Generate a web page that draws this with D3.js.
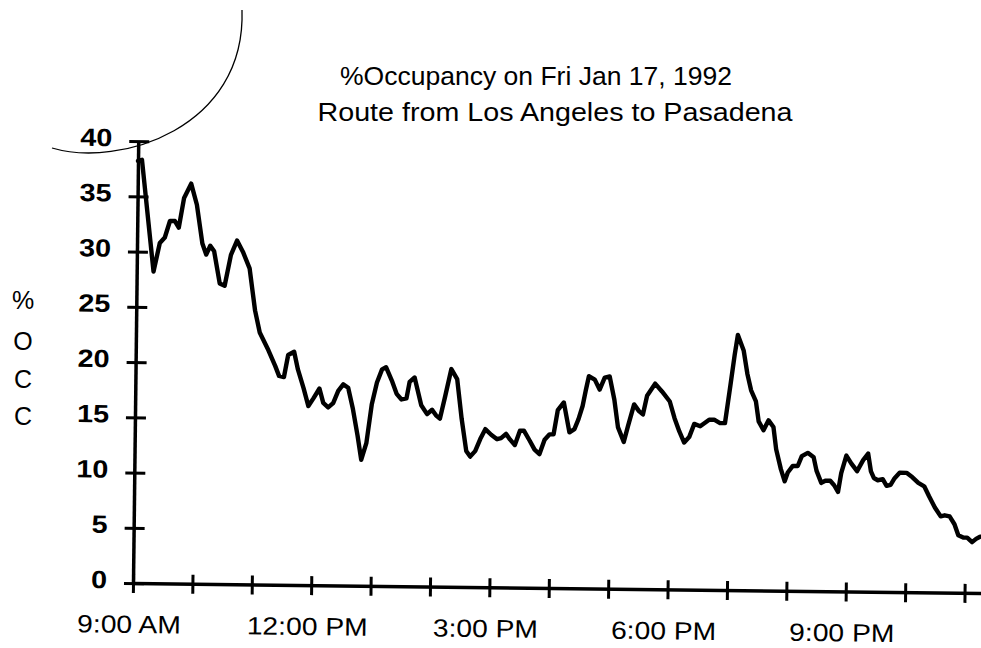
<!DOCTYPE html>
<html>
<head>
<meta charset="utf-8">
<title>%Occupancy</title>
<script src="https://cdn.jsdelivr.net/npm/d3@7"></script>
<style>
  body { margin: 0; background: #fff; }
  text { font-family: "Liberation Sans", Arial, Helvetica, sans-serif; fill: #000; }
  .tick line, .domain { stroke: #000; }
</style>
</head>
<body>
<script>

// minutes after 9:00 AM
let minutes = [0, 4, 17, 23, 28, 33, 38, 42, 47, 54, 60, 66, 70, 74, 78, 84, 89, 95, 101, 107, 114, 120, 125, 134, 141,
  145, 150, 154, 160, 164, 170, 175, 180, 186, 190, 195, 200, 205, 210, 215, 220, 225, 229, 234, 239, 244, 249, 253, 259, 264, 269, 274, 277, 282,
  289, 295, 300, 304, 308, 313, 319, 325, 330, 335, 339, 344, 349, 354, 360, 366, 370, 375, 379, 384, 389, 393, 399, 404, 409, 414, 419, 423, 427, 433,
  439, 444, 448, 452, 455, 458, 464, 469, 474, 479, 484, 488, 494, 498, 504, 509, 513, 517, 525, 532, 540, 545, 550, 555, 560, 565, 571,
  580, 585, 591, 596, 601, 605, 608, 614, 618, 622, 627, 630, 635, 640, 645, 648, 653, 657, 660, 665, 670, 674, 680, 686, 689, 694, 698, 703, 707, 711, 714, 719, 724,
  730, 736, 741, 744, 747, 751, 756, 760, 764, 768, 773, 780, 786, 792, 798, 803, 809, 815, 819, 824, 829, 833, 838, 842, 847, 851, 855];

// % occupancy
let occupancy = [38.2, 38.3, 28.2, 30.8, 31.3, 32.8, 32.8, 32.2, 34.9, 36.2, 34.3, 30.8, 29.8, 30.6, 30.1, 27.2, 27.0, 29.8, 31.1, 30.1, 28.6, 24.8, 22.8, 21.2, 19.8,
  18.9, 18.8, 20.8, 21.1, 19.5, 17.8, 16.2, 16.9, 17.8, 16.5, 16.1, 16.5, 17.6, 18.2, 17.9, 16.0, 13.6, 11.4, 12.9, 16.4, 18.4, 19.6, 19.8, 18.6, 17.4, 16.9, 17.0, 18.5, 18.9,
  16.4, 15.6, 16.0, 15.5, 15.2, 17.2, 19.7, 18.8, 15.2, 12.3, 11.8, 12.3, 13.4, 14.3, 13.8, 13.4, 13.5, 13.9, 13.4, 12.9, 14.2, 14.2, 13.3, 12.5, 12.1, 13.4, 13.9, 13.9, 16.1, 16.8,
  14.1, 14.4, 15.3, 16.5, 17.9, 19.2, 18.9, 18.0, 19.1, 19.2, 17.1, 14.6, 13.3, 14.7, 16.7, 16.1, 15.8, 17.5, 18.6, 17.9, 17.0, 15.5, 14.3, 13.3, 13.8, 15.0, 14.8,
  15.4, 15.4, 15.1, 15.1, 18.5, 21.3, 23.1, 21.7, 19.6, 18.1, 17.1, 15.3, 14.5, 15.4, 14.8, 12.8, 11.0, 9.9, 10.7, 11.3, 11.3, 12.2, 12.5, 12.1, 10.9, 9.8, 10.0, 10.0, 9.6, 9.0, 10.7, 12.3, 11.6,
  10.9, 11.9, 12.5, 10.9, 10.3, 10.1, 10.2, 9.6, 9.7, 10.3, 10.8, 10.8, 10.4, 9.9, 9.6, 8.7, 7.7, 6.9, 7.0, 6.9, 6.2, 5.2, 5.0, 5.0, 4.6, 4.9, 5.1];

let yTicks = [0, 5, 10, 15, 20, 25, 30, 35, 40];
let labelHours = [9, 12, 15, 18, 21];
let yLabel = ['%', 'O', 'C', 'C'];
let titles = ['%Occupancy on Fri Jan 17, 1992', 'Route from Los Angeles to Pasadena'];

let start = new Date(1992, 0, 17, 9, 0);
let totalMinutes = 858;

window.onload = function() {
  draw();
};

// the scan is a bit wider than the font, so widen texts by a factor
function stretch(sel, k) {
  sel.each(function() {
    let len = this.getComputedTextLength();
    if (len > 0) {
      d3.select(this)
        .attr('textLength', len * k)
        .attr('lengthAdjust', 'spacingAndGlyphs');
    }
  });
}

function draw() {

  let width = 981, height = 648;
  let margin = {top: 141, left: 133};
  let h = 442;
  let w = totalMinutes * 59.4 / 60;

  let svg = d3.select('body')
     .append('svg')
     .attr('width', width)
     .attr('height', height);

  // the scanned page sits a little crooked, so the plot is turned with it
  let g = svg.append('g')
     .attr('transform', `translate(${margin.left},${margin.top}) rotate(0.68, 0, ${h})`);

  let x = d3.scaleTime()
     .domain([start, d3.timeMinute.offset(start, totalMinutes)])
     .range([0, w]);

  let y = d3.scaleLinear()
     .domain([0, 40])
     .range([h, 0]);

  let data = minutes.map(function(m, i) {
    return {t: d3.timeMinute.offset(start, m), v: occupancy[i]};
  });

  // line
  let line = d3.line()
     .x(function(d) { return x(d.t); })
     .y(function(d) { return y(d.v); });

  g.append('path')
     .datum(data)
     .attr('d', line)
     .attr('fill', 'none')
     .attr('stroke', '#000')
     .attr('stroke-width', 4.4)
     .attr('stroke-linejoin', 'round')
     .attr('stroke-linecap', 'round');

  // x axis, a tick every hour, label every 3 hours
  let xAxis = g.append('g')
     .attr('transform', `translate(0,${h})`)
     .call(d3.axisBottom(x)
       .ticks(d3.timeHour.every(1))
       .tickSizeOuter(0)
       .tickFormat(function(d) {
         return labelHours.indexOf(d.getHours()) >= 0 ? d3.timeFormat('%-I:%M %p')(d) : '';
       }));

  xAxis.select('.domain').attr('stroke-width', 3.5);
  xAxis.selectAll('.tick line')
     .attr('y1', -9)
     .attr('y2', 10)
     .attr('stroke-width', 3);
  xAxis.selectAll('.tick text')
     .attr('y', 50)
     .attr('dy', 0)
     .attr('x', -4)
     .style('font-size', '25px')
     .call(stretch, 1.13);

  // y axis
  let yAxis = g.append('g')
     .call(d3.axisLeft(y)
       .tickValues(yTicks)
       .tickSizeOuter(0));

  yAxis.select('.domain').attr('stroke-width', 3.5);
  yAxis.selectAll('.tick line')
     .attr('x1', -9)
     .attr('x2', 11)
     .attr('stroke-width', 3);
  yAxis.selectAll('.tick text')
     .attr('x', -26)
     .attr('dy', '0.32em')
     .attr('y', -3)
     .style('font-size', '25px')
     .style('font-weight', 'bold')
     .call(stretch, 1.15);

  // y label, one letter under the other
  svg.selectAll('.ylabel')
     .data(yLabel)
     .enter()
     .append('text')
     .attr('class', 'ylabel')
     .attr('x', 23)
     .attr('y', function(d, i) { return [309, 350, 388, 425][i]; })
     .style('text-anchor', 'middle')
     .style('font-size', '25px')
     .text(function(d) { return d; });

  // titles
  svg.append('text')
     .attr('x', 536)
     .attr('y', 85)
     .style('text-anchor', 'middle')
     .style('font-size', '25px')
     .attr('textLength', 392)
     .attr('lengthAdjust', 'spacingAndGlyphs')
     .text(titles[0]);

  svg.append('text')
     .attr('x', 555)
     .attr('y', 121)
     .style('text-anchor', 'middle')
     .style('font-size', '25px')
     .attr('textLength', 475)
     .attr('lengthAdjust', 'spacingAndGlyphs')
     .text(titles[1]);

  // pen stroke across the top left corner of the page
  svg.append('path')
     .attr('d', 'M52,148 C120,168 246,128 242,10')
     .attr('fill', 'none')
     .attr('stroke', '#000')
     .attr('stroke-width', 1.3);
}
</script>
</body>
</html>
